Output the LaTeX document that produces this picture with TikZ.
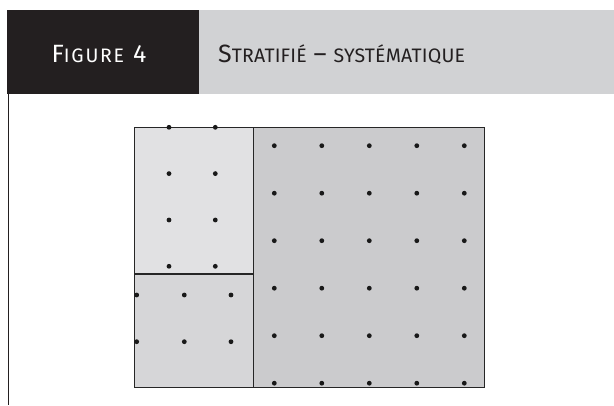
\documentclass[tikz,border=0pt]{standalone}
\usepackage{fontspec}
\setsansfont{Fira Sans}
\usepackage{tikz}
\usetikzlibrary{positioning}
\definecolor{headdark}{HTML}{231F20}
\definecolor{headgray}{HTML}{D1D2D4}
\definecolor{strataA}{HTML}{E1E1E3}
\definecolor{strataB}{HTML}{D6D6D8}
\definecolor{strataC}{HTML}{CBCBCD}
\newcommand{\hsc}[2]{#1{\fontsize{19.5}{22}\selectfont#2}}
\tikzset{
  hdbox/.style={fill=headdark, minimum width=192pt, minimum height=84pt, inner sep=0pt, outer sep=0pt},
  hlbox/.style={fill=headgray, minimum width=415pt, minimum height=84pt, inner sep=0pt, outer sep=0pt},
  headtext/.style={inner sep=0pt, font=\sffamily\fontsize{25}{28}\selectfont},
  stratum/.style={draw=black!85, line width=1pt},
  sample/.style={fill=black!90, draw=none},
  rule/.style={draw=headdark, line width=1.2pt}
}
\begin{document}
\begin{tikzpicture}[x=1pt, y=-1pt]
  \useasboundingbox (0,0) rectangle (614,405);
  % header
  \node[hdbox, anchor=north west] (fig) at (7,10) {};
  \node[hlbox, anchor=north west] (title) at (199,10) {};
  \node[headtext, text=white, anchor=base] (figlab) at ([xshift=-4pt, yshift=-10pt]fig.center) {\addfontfeature{LetterSpace=9}\hsc{F}{IGURE} 4};
  \node[headtext, text=headdark, anchor=base west] (titlelab) at ([xshift=19pt, yshift=-10pt]title.west) {\addfontfeature{LetterSpace=1}\hsc{S}{TRATIFIÉ} – \hsc{}{SYSTÉMATIQUE}};
  \coordinate (rulend) at (8.5,405);
  \draw[rule] (fig.south west -| rulend) -- (rulend);
  % strata
  \filldraw[stratum, fill=strataA] (134,127.3) rectangle (253.3,274);
  \filldraw[stratum, fill=strataB] (134,274) rectangle (253.3,387.5);
  \filldraw[stratum, fill=strataC] (253.3,127.3) rectangle (484.3,387.7);
  \draw[stratum, line width=1.5pt] (134,274) -- (253.3,274) -- (253.3,387.7);
  % sample points
  \foreach \x in {169,215.3}
    \foreach \y in {127.3,173.6,220,266.3}
      \fill[sample] (\x,\y) circle (2.4pt);
  \foreach \x in {136.7,184.3,231}
    \foreach \y in {295,341.7}
      \fill[sample] (\x,\y) circle (2.4pt);
  \foreach \i in {0,...,4}
    \foreach \j in {0,...,5}
      \fill[sample] (274.3+47.5*\i,145.7+47.5*\j) circle (2.4pt);
\end{tikzpicture}
\end{document}
